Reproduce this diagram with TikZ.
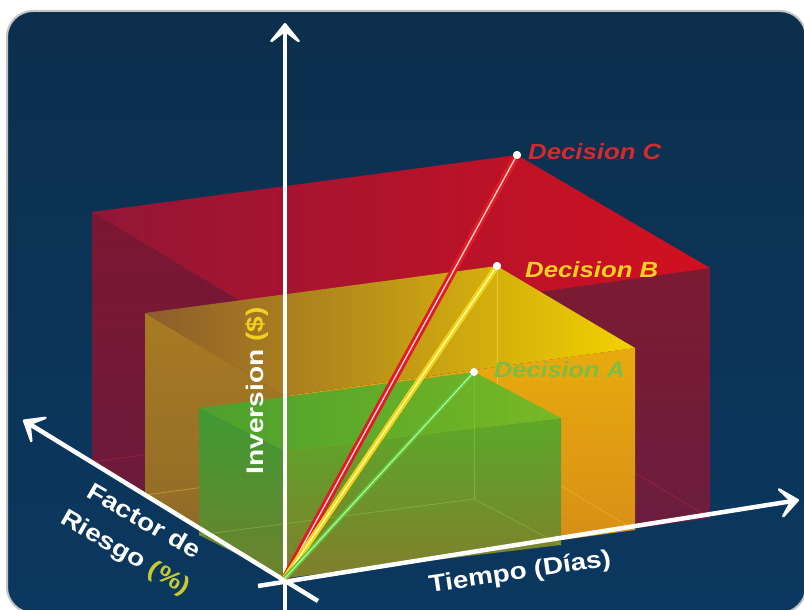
\documentclass[tikz,border=0pt]{standalone}
\usepackage{fontspec}
\usepackage{graphicx}
\setmainfont{Liberation Sans}
\usetikzlibrary{arrows.meta}
\definecolor{navytop}{HTML}{0C2F4D}
\definecolor{navybot}{HTML}{0B3860}
\definecolor{frame}{HTML}{C4C4C4}
\definecolor{decC}{HTML}{D42A2E}
\definecolor{decB}{HTML}{F2D21E}
\definecolor{decA}{HTML}{7CBE44}
\definecolor{yel}{HTML}{F0D020}
\definecolor{pct}{HTML}{C8C830}
\begin{document}
\begin{tikzpicture}[x=1pt,y=-1pt,
  axis/.style={draw=white, line width=4.5pt,
    -{Stealth[length=26pt,width=42pt,inset=16pt,round]}},
  dlabel/.style={font=\fontsize{22}{24}\selectfont\bfseries\itshape, anchor=west, inner sep=0pt},
  axlabel/.style={font=\fontsize{24}{36}\selectfont\bfseries, text=white, inner sep=0pt, align=center},
  dot/.style={circle, fill=white, inner sep=0pt, minimum size=8pt},
  backedge/.style={line width=0.8pt, opacity=0.45}]
\useasboundingbox (0,0) rectangle (804,610);
\fill[white] (0,0) rectangle (804,610);
\begin{scope}
\clip (0,0) rectangle (804,610);
\shade[top color=navytop, bottom color=navybot, draw=frame, line width=2pt, rounded corners=26pt]
  (7,11) rectangle (806,613);
\end{scope}

% origin and box corners
\coordinate (O) at (285,578);
% red box
\coordinate (rT) at (710,518);  \coordinate (rR) at (92,462);   \coordinate (rTR) at (517,402);
\coordinate (rV) at (285,328);  \coordinate (rVT) at (710,268); \coordinate (rVR) at (92,212);
\coordinate (rVTR) at (517,155);
% yellow box
\coordinate (yT) at (635,530);  \coordinate (yR) at (145,495);  \coordinate (yTR) at (497,448);
\coordinate (yV) at (285,396);  \coordinate (yVT) at (635,348); \coordinate (yVR) at (145,313);
\coordinate (yVTR) at (497,266);
% green box
\coordinate (gT) at (561,545);  \coordinate (gR) at (199,535);  \coordinate (gTR) at (474,499);
\coordinate (gV) at (285,451);  \coordinate (gVT) at (561,418); \coordinate (gVR) at (199,408);
\coordinate (gVTR) at (474,372);

% red faces
\shade[top color={rgb,255:red,124;green,22;blue,50}, bottom color={rgb,255:red,104;green,28;blue,62}]
  (O) -- (rR) -- (rVR) -- (rV) -- cycle;
\shade[top color={rgb,255:red,124;green,26;blue,50}, bottom color={rgb,255:red,104;green,30;blue,64}]
  (O) -- (rT) -- (rVT) -- (rV) -- cycle;
\shade[left color={rgb,255:red,146;green,22;blue,54}, right color={rgb,255:red,210;green,16;blue,32}]
  (rVR) -- (rVTR) -- (rVT) -- (rV) -- cycle;
\draw[backedge, draw={rgb,255:red,200;green,40;blue,60}] (rR) -- (rTR) -- (rT);

% yellow faces
\shade[top color={rgb,255:red,168;green,122;blue,34}, bottom color={rgb,255:red,140;green,104;blue,42}]
  (O) -- (yR) -- (yVR) -- (yV) -- cycle;
\shade[top color={rgb,255:red,232;green,170;blue,14}, bottom color={rgb,255:red,212;green,138;blue,24}]
  (O) -- (yT) -- (yVT) -- (yV) -- cycle;
\shade[left color={rgb,255:red,140;green,92;blue,44}, right color={rgb,255:red,242;green,210;blue,0}]
  (yVR) -- (yVTR) -- (yVT) -- (yV) -- cycle;
\draw[backedge, draw={rgb,255:red,240;green,200;blue,60}] (yR) -- (yTR) -- (yT);
\draw[backedge, draw={rgb,255:red,250;green,230;blue,120}] (yVTR) -- (yTR);

% green faces
\shade[top color={rgb,255:red,62;green,154;blue,50}, bottom color={rgb,255:red,110;green,130;blue,46}]
  (O) -- (gR) -- (gVR) -- (gV) -- cycle;
\shade[top color={rgb,255:red,92;green,168;blue,42}, bottom color={rgb,255:red,128;green,126;blue,44}]
  (O) -- (gT) -- (gVT) -- (gV) -- cycle;
\shade[left color={rgb,255:red,76;green,160;blue,46}, right color={rgb,255:red,120;green,184;blue,36}]
  (gVR) -- (gVTR) -- (gVT) -- (gV) -- cycle;
\draw[backedge, draw={rgb,255:red,150;green,200;blue,90}] (gR) -- (gTR) -- (gT);
\draw[backedge, draw={rgb,255:red,150;green,200;blue,90}] (gVTR) -- (gTR);

% axes
\coordinate (vbot) at (285,614);
\coordinate (vtop) at (285,23);
\coordinate (tstart) at (258,586);
\coordinate (tend) at (799,500);
\coordinate (rstart) at (318,601);
\coordinate (rend) at (23,420);
\draw[axis] (vbot) -- (vtop);
\draw[axis] (tstart) -- (tend);
\draw[axis] (rstart) -- (rend);

% decision points and lines
\node[dot] (dC) at (rVTR) {};
\node[dot] (dB) at (yVTR) {};
\node[dot] (dA) at (gVTR) {};
\draw[line width=7pt, draw={rgb,255:red,226;green,26;blue,36}] (O) -- (dC);
\draw[line width=1.3pt, white!85!red] (O) -- (dC);
\draw[line width=6pt, draw={rgb,255:red,245;green,212;blue,20}] (O) -- (dB);
\draw[line width=1.3pt, white!75!yellow] (O) -- (dB);
\draw[line width=4.5pt, draw={rgb,255:red,104;green,196;blue,56}] (O) -- (dA);
\draw[line width=1pt, white!70!green] (O) -- (dA);
\node[dot] at (dC) {};
\node[dot] at (dB) {};
\node[dot, minimum size=7pt] at (dA) {};

% labels
\node[dlabel, text=decC] (lC) at (528,152) {\scalebox{1.17}[1]{Decision C}};
\node[dlabel, text=decB] (lB) at (525,270) {\scalebox{1.17}[1]{Decision B}};
\node[dlabel, text=decA] (lA) at (494,370) {\scalebox{1.15}[1]{Decision A}};

\node[axlabel, rotate=90] (inv) at (257,391) {\scalebox{1.17}[1]{Inversion \textcolor{yel}{(\$)}}};
\node[axlabel, rotate=-30] (risk) at (134,538) {\scalebox{1.17}[1]{Factor de}\\\scalebox{1.17}[1]{Riesgo \textcolor{pct}{(\%)}}};
\node[axlabel, rotate=8.5] (time) at (520,573) {\scalebox{1.16}[1]{Tiempo (Días)}};
\end{tikzpicture}
\end{document}
